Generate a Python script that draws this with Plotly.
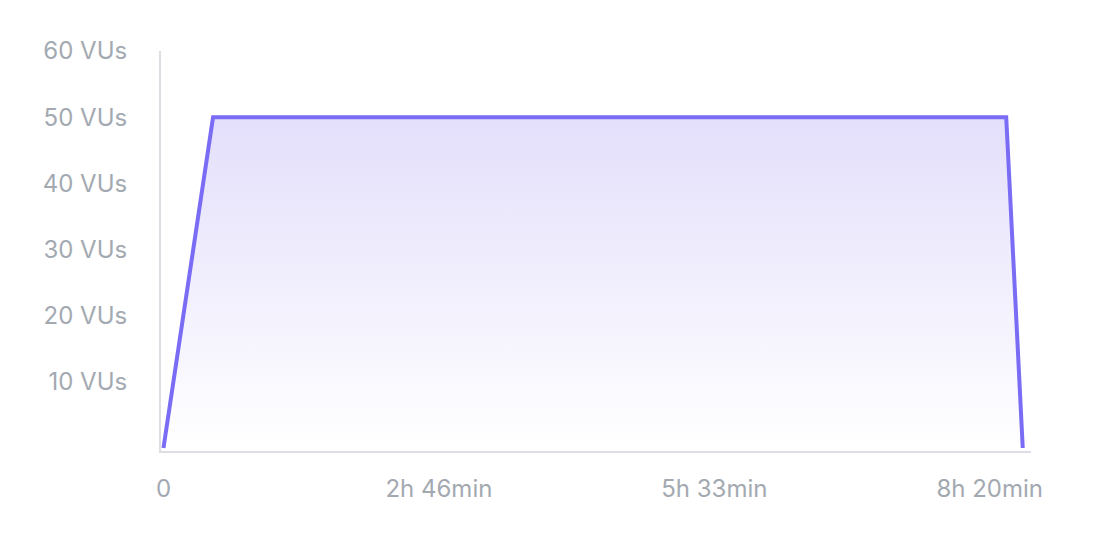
import plotly.graph_objects as go

# load profile: 30min ramp-up, 8h hold, 10min ramp-down (seconds)
time_s = [0, 1800, 30600, 31200]
vus = [0, 50, 50, 0]

x_tickvals = [0, 10000, 20000, 30000]
x_ticktext = ["0", "2h 46min", "5h 33min", "8h 20min"]
y_tickvals = [10, 20, 30, 40, 50, 60]
y_ticktext = ["10 VUs", "20 VUs", "30 VUs", "40 VUs", "50 VUs", "60 VUs"]

LABEL_COLOR = "#a3a9b1"
AXIS_COLOR = "#dcdee3"

fig = go.Figure(go.Scatter(
    x=time_s, y=vus, mode="lines",
    line=dict(color="#7a6cf5", width=4),
    fill="tozeroy",
    fillgradient=dict(type="vertical",
                      colorscale=[[0, "#ffffff"], [1, "#e3dffb"]]),
    hoverinfo="skip",
))

fig.update_layout(
    width=1120, height=548,
    margin=dict(l=153, r=97, t=43, b=105),
    paper_bgcolor="white", plot_bgcolor="white",
    showlegend=False,
    font=dict(family="Inter", size=24, color=LABEL_COLOR),
)
fig.update_xaxes(
    range=[-90, 31500], tickvals=x_tickvals, ticktext=x_ticktext,
    showgrid=False, zeroline=False,
    showline=True, linecolor=AXIS_COLOR, linewidth=2,
    ticks="", ticklabelstandoff=15,
)
fig.update_yaxes(
    range=[-0.45, 60], tickvals=y_tickvals, ticktext=y_ticktext,
    showgrid=False, zeroline=False,
    showline=True, linecolor=AXIS_COLOR, linewidth=2,
    ticks="", ticklabelstandoff=27,
)

fig.write_html("out.html")
